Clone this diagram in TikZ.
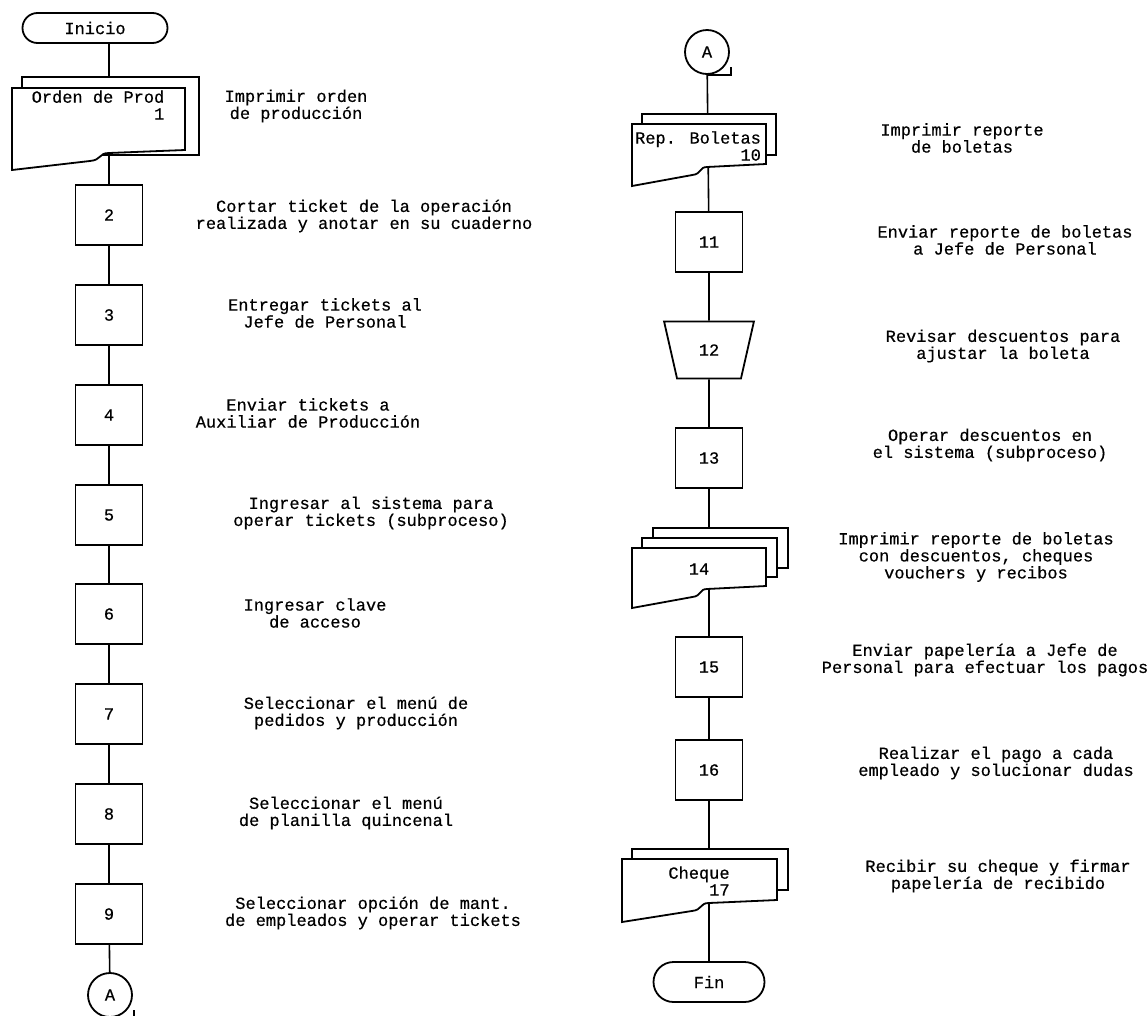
\documentclass[tikz,border=0pt]{standalone}
\usepackage{fontspec}
\setmainfont{Liberation Mono}[FakeBold=0.5]
\usetikzlibrary{shapes.geometric,shapes.misc,backgrounds}
\tikzset{
  linea/.style={line width=1.6pt},
  paso/.style={draw,fill=white,line width=1.8pt,minimum width=67pt,minimum height=60pt,inner sep=0pt},
  terminal/.style={draw,fill=white,line width=1.8pt,rounded rectangle,inner sep=0pt},
  conector/.style={draw,fill=white,line width=1.8pt,circle,minimum size=44pt,inner sep=0pt},
  revision/.style={draw,fill=white,line width=1.8pt,trapezium,trapezium angle=70,shape border rotate=180,
    trapezium stretches=true,minimum width=90pt,minimum height=57pt,inner sep=0pt},
  hojas/.style={draw,fill=white,line width=1.8pt},
  nota/.style={align=center}
}
% hoja de documento: izq, arriba, der, abajo der, abajo izq
\newcommand{\hoja}[5]{%
  \draw[hojas] (#1,#2) -- (#3,#2) -- (#3,#4)
    -- ({#1+0.56*(#3-#1)},{#4+3}) .. controls ({#1+0.50*(#3-#1)},{#4+3}) and ({#1+0.52*(#3-#1)},{#4+10}) .. ({#1+0.45*(#3-#1)},{#4+11})
    -- (#1,#5) -- cycle;}
\begin{document}
\begin{tikzpicture}[x=1pt,y=-1pt,font=\fontsize{17}{17}\selectfont]
\useasboundingbox (0,0) rectangle (1147,1015);

% columna izquierda
\node[terminal,minimum width=145pt,minimum height=30pt] (inicio) at (95,28) {Inicio};
\draw[hojas] (22,77) rectangle (199,155);
\hoja{12}{88}{185}{150}{170}
\node[align=right] (d1) at (98,105) {Orden de Prod\\1};
\foreach \i/\y in {2/215,3/315,4/415,5/515,6/614,7/714,8/814,9/914}
  \node[paso] (b\i) at (109,\y) {\i};
\node[conector] (ca) at (110,995) {A};
\draw[linea] (ca.south) -- ++(24,0) -- ++(0,-8);

% columna derecha
\node[conector] (ra) at (707,52) {A};
\draw[linea] (ra.south) -- ++(24,0) -- ++(0,-8);
\draw[hojas] (642,114) rectangle (776,155);
\hoja{632}{124}{766}{164}{186}
\node[align=right] (d10) at (698,146) {Rep. Boletas\\10};
\node[paso] (b11) at (709,242) {11};
\node[revision] (b12) at (709,350) {12};
\node[paso] (b13) at (709,458) {13};
\draw[hojas] (653,528) rectangle (788,568);
\draw[hojas] (642,538) rectangle (777,577);
\hoja{632}{548}{766}{586}{608}
\node (d14) at (699,569) {14};
\node[paso] (b15) at (709,667) {15};
\node[paso] (b16) at (709,770) {16};
\draw[hojas] (632,849) rectangle (788,890);
\hoja{622}{859}{777}{900}{922}
\node[align=right] (d17) at (699,881) {Cheque\\17};
\node[terminal,minimum width=111pt,minimum height=40pt] (fin) at (709,982) {Fin};

\begin{scope}[on background layer]
\draw[linea] (inicio -| b2) -- (b2) -- (b3) -- (b4) -- (b5) -- (b6) -- (b7) -- (b8) -- (b9) -- (ca);
\draw[linea] (ra) -- (b11) -- (b12) -- (b13) -- (b15) -- (b16) -- (fin);
\end{scope}

% textos
\node[nota] (t1) at (296,106) {Imprimir orden\\de producción};
\node[nota] (t2) at (364,216) {Cortar ticket de la operación\\realizada y anotar en su cuaderno};
\node[nota] (t3) at (325,313) {Entregar tickets al\\Jefe de Personal};
\node[nota] (t4) at (308,413) {Enviar tickets a\\Auxiliar de Producción};
\node[nota] (t5) at (371,513) {Ingresar al sistema para\\operar tickets (subproceso)};
\node[nota] (t6) at (315,613) {Ingresar clave\\de acceso};
\node[nota] (t7) at (356,713) {Seleccionar el menú de\\pedidos y producción};
\node[nota] (t8) at (346,813) {Seleccionar el menú\\de planilla quincenal};
\node[nota] (t9) at (373,913) {Seleccionar opción de mant.\\de empleados y operar tickets};
\node[nota] (t10) at (962,138) {Imprimir reporte\\de boletas};
\node[nota] (t11) at (1005,240) {Enviar reporte de boletas\\a Jefe de Personal};
\node[nota] (t12) at (1003,346) {Revisar descuentos para\\ajustar la boleta};
\node[nota] (t13) at (990,445) {Operar descuentos en\\el sistema (subproceso)};
\node[nota] (t14) at (976,557) {Imprimir reporte de boletas\\con descuentos, cheques\\vouchers y recibos};
\node[nota] (t15) at (985,660) {Enviar papelería a Jefe de\\Personal para efectuar los pagos};
\node[nota] (t16) at (996,763) {Realizar el pago a cada\\empleado y solucionar dudas};
\node[nota] (t17) at (998,876) {Recibir su cheque y firmar\\papelería de recibido};
\end{tikzpicture}
\end{document}
